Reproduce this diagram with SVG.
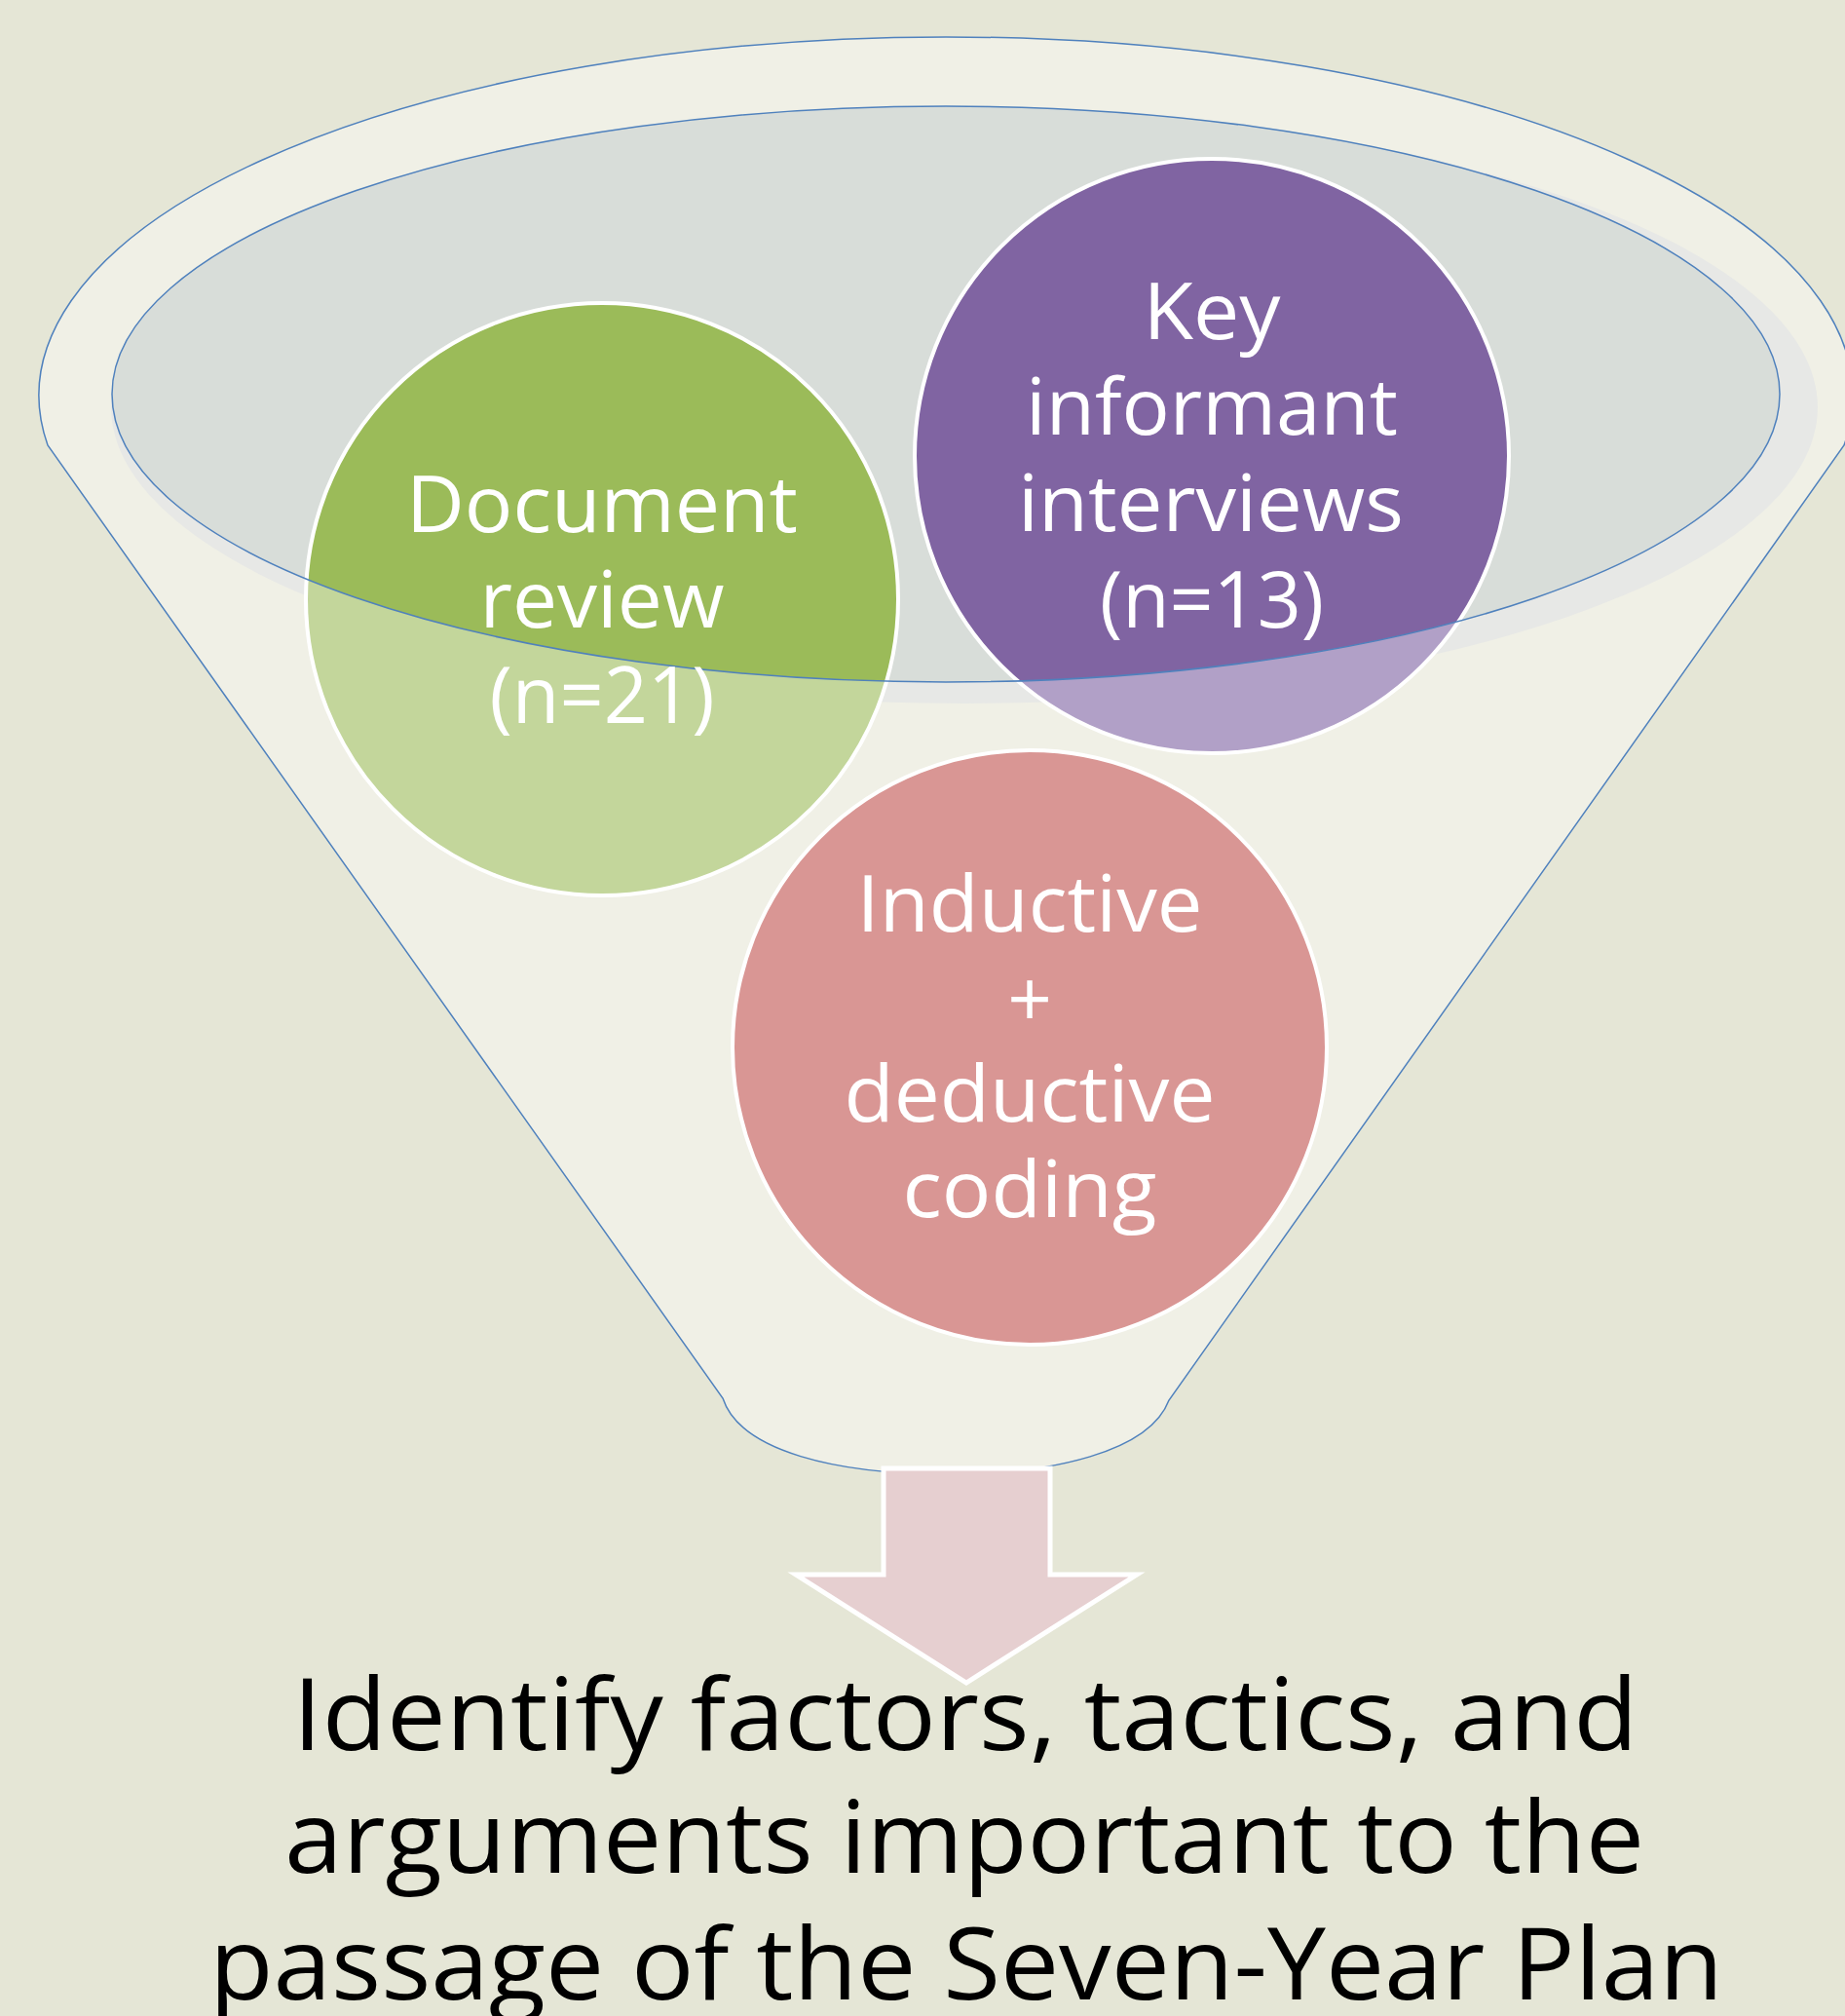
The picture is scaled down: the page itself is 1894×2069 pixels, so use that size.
<svg xmlns="http://www.w3.org/2000/svg" width="1894" height="2069" viewBox="0 0 1894 2069">
<style>
.ctext{font-family:"Open Sans",Lato,"Liberation Sans",sans-serif;font-size:80px;fill:#ffffff;text-anchor:middle}
.btext{font-family:"Open Sans",Lato,"Liberation Sans",sans-serif;font-size:102px;fill:#000000;text-anchor:middle}
.circ{stroke:#ffffff;stroke-width:4}
</style>
<defs>
<clipPath id="inner"><ellipse cx="971" cy="404.5" rx="856" ry="295.5"/></clipPath>
</defs>
<rect width="1894" height="2069" fill="#e5e6d6"/>
<g id="funnel">
<path d="M49,457 A931,368 0 1 1 1893,457 L1200,1437 C1180,1490 1080,1513 973,1513 C860,1513 760,1490 742,1435 Z" fill="#f0f0e6" stroke="#4f81bd" stroke-width="1.5"/>
<ellipse cx="990" cy="418" rx="876" ry="304" fill="#e7e8e6"/>
<ellipse cx="971" cy="404.5" rx="856" ry="295.5" fill="#d8ddd9"/>
</g>
<g id="connectors">
<path d="M907,1507 L1078,1507 L1078,1616 L1167,1616 L992,1727 L817,1616 L907,1616 Z" fill="#e6cfd0" stroke="#ffffff" stroke-width="5"/>
</g>
<g id="node-document">
<circle cx="618" cy="615" r="304" fill="#c3d69b"/>
<circle cx="618" cy="615" r="304" fill="#9bbb59" clip-path="url(#inner)"/>
<circle class="circ" cx="618" cy="615" r="304" fill="none"/>
</g>
<g id="node-interviews">
<circle cx="1244" cy="468" r="305" fill="#b1a0c7"/>
<circle cx="1244" cy="468" r="305" fill="#8064a2" clip-path="url(#inner)"/>
<circle class="circ" cx="1244" cy="468" r="305" fill="none"/>
</g>
<g id="node-coding">
<circle class="circ" cx="1057" cy="1075" r="305" fill="#d99694"/>
</g>
<ellipse cx="971" cy="404.5" rx="856" ry="295.5" fill="none" stroke="#4f81bd" stroke-width="1.5"/>
<g id="labels">
<text class="ctext" x="618" y="546" textLength="402" lengthAdjust="spacingAndGlyphs">Document</text>
<text class="ctext" x="618" y="644" textLength="251" lengthAdjust="spacingAndGlyphs">review</text>
<text class="ctext" x="618" y="742" textLength="231" lengthAdjust="spacingAndGlyphs">(n=21)</text>
<text class="ctext" x="1244" y="348" textLength="141" lengthAdjust="spacingAndGlyphs">Key</text>
<text class="ctext" x="1244" y="446" textLength="382" lengthAdjust="spacingAndGlyphs">informant</text>
<text class="ctext" x="1243" y="545" textLength="396" lengthAdjust="spacingAndGlyphs">interviews</text>
<text class="ctext" x="1244" y="644" textLength="230" lengthAdjust="spacingAndGlyphs">(n=13)</text>
<text class="ctext" x="1057" y="956" textLength="355" lengthAdjust="spacingAndGlyphs">Inductive</text>
<text class="ctext" x="1057" y="1054">+</text>
<text class="ctext" x="1057" y="1151" textLength="381" lengthAdjust="spacingAndGlyphs">deductive</text>
<text class="ctext" x="1057" y="1249" textLength="261" lengthAdjust="spacingAndGlyphs">coding</text>
</g>
<g id="node-result">
<text class="btext" x="991" y="1796" textLength="1381" lengthAdjust="spacingAndGlyphs">Identify factors, tactics, and</text>
<text class="btext" x="990" y="1922" textLength="1396" lengthAdjust="spacingAndGlyphs">arguments important to the</text>
<text class="btext" x="992" y="2052" textLength="1554" lengthAdjust="spacingAndGlyphs">passage of the Seven-Year Plan</text>
</g>
</svg>
